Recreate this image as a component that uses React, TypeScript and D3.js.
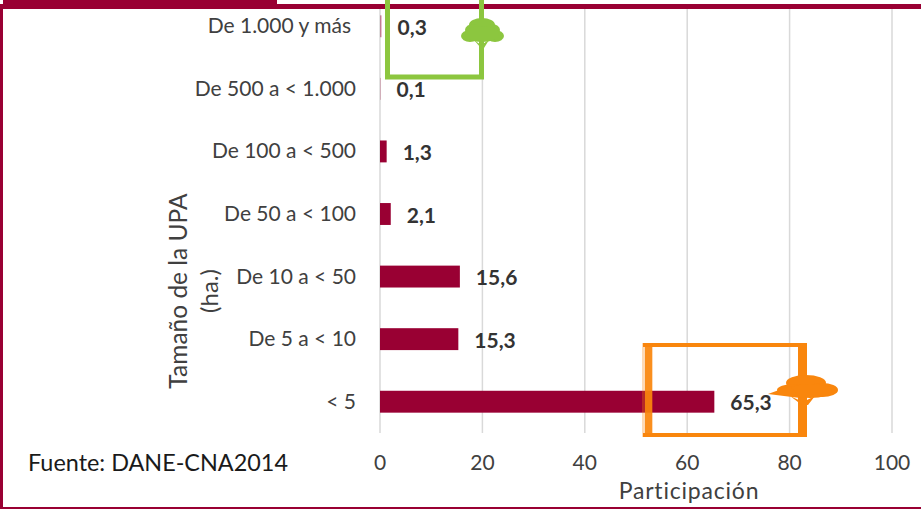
import React from "react";
import * as d3 from "d3";

const categories = ["De 1.000 y más", "De 500 a < 1.000", "De 100 a < 500", "De 50 a < 100", "De 10 a < 50", "De 5 a < 10", "< 5"];
const values = [0.3, 0.1, 1.3, 2.1, 15.6, 15.3, 65.3];
const labels = ["0,3", "0,1", "1,3", "2,1", "15,6", "15,3", "65,3"];
const ticks = [0, 20, 40, 60, 80, 100];

const W = 921, H = 509;
const CRIMSON = "#990033";
const GREEN = "#8CC63F";
const ORANGE = "#F9860D";
const FONT = "Lato, 'Open Sans', sans-serif";

const greenCrown: [number, number, number, number][] = [
  [482, 25, 13, 7], [473, 30, 8, 6], [492, 30, 8, 6], [470, 36, 9, 6], [495, 36, 9, 6], [482, 34, 17, 8],
];
const orangeCrown: [number, number, number, number][] = [
  [806, 383, 20, 8], [794, 390, 17, 6], [822, 390, 16, 7], [810, 391, 22, 7],
];

export default function App() {
  const x = d3.scaleLinear().domain([0, 100]).range([380, 892]);
  const y = d3.scaleBand().domain(categories).range([-5, 433]).paddingInner(0.65).paddingOuter(0.325);
  const cy = (c: string) => (y(c) as number) + y.bandwidth() / 2;
  return (
    <svg width={W} height={H} viewBox={`0 0 ${W} ${H}`} style={{ position: "absolute", left: 0, top: 0, background: "#fff" }} fontFamily={FONT}>
      {ticks.map(t => (
        <g key={t}>
          <line x1={x(t)} x2={x(t)} y1={8} y2={433} stroke="#d9d9d9" strokeWidth={1.5} />
          <text x={x(t)} y={470} textAnchor="middle" fontSize={21} fill="#404040">{t}</text>
        </g>
      ))}
      {categories.map((c, i) => (
        <g key={c}>
          <rect x={x(0)} y={y(c)} width={x(values[i]) - x(0)} height={y.bandwidth()} fill={CRIMSON} opacity={i < 2 ? 0.45 : 1} />
          <text x={i === 0 ? 351 : 356} y={cy(c) + 7} textAnchor="end" fontSize={21} fill="#404040">{c}</text>
          <text x={x(values[i]) + 16} y={cy(c) + 8.5} fontSize={21} fontWeight={700} fill="#333333">{labels[i]}</text>
        </g>
      ))}
      <text transform="translate(187,291) rotate(-90)" textAnchor="middle" fontSize={24.5} fill="#404040">Tamaño de la UPA</text>
      <text transform="translate(218,291) rotate(-90)" textAnchor="middle" fontSize={24} fill="#404040">(ha.)</text>
      <text x={689} y={499} textAnchor="middle" fontSize={23} fill="#404040" letterSpacing={0.8}>Participación</text>
      <text x={28} y={471} fontSize={23.4} fill="#1a1a1a">Fuente: DANE-CNA2014</text>

      <rect x={0} y={9} width={3} height={H - 9} fill={CRIMSON} />
      <rect x={0} y={507} width={W} height={2} fill={CRIMSON} />
      <rect x={0} y={4} width={W} height={5} fill={CRIMSON} />
      <rect x={3} y={0} width={274} height={9} fill={CRIMSON} />

      <path d="M387.5,0V77H481.5V0" fill="none" stroke={GREEN} strokeWidth={5} />
      {greenCrown.map((e, i) => <ellipse key={i} cx={e[0]} cy={e[1]} rx={e[2]} ry={e[3]} fill={GREEN} />)}
      <path d="M474,40L481,45L489,40L484,48V75H480V47Z" fill={GREEN} />

      <rect x={643} y={343} width={164} height={4} fill={ORANGE} />
      <rect x={643} y={433} width={164} height={4} fill={ORANGE} />
      <rect x={642} y={343} width={11} height={94} fill={ORANGE} opacity={0.3} />
      <rect x={645} y={343} width={7} height={94} fill={ORANGE} opacity={0.9} />
      <rect x={798} y={343} width={9} height={94} fill={ORANGE} />
      {orangeCrown.map((e, i) => <ellipse key={i} cx={e[0]} cy={e[1]} rx={e[2]} ry={e[3]} fill={ORANGE} />)}
      <path d="M768,394L790,386L800,398Z" fill={ORANGE} />
      <path d="M790,396L803,402L815,396L808,405H802Z" fill={ORANGE} />
    </svg>
  );
}
